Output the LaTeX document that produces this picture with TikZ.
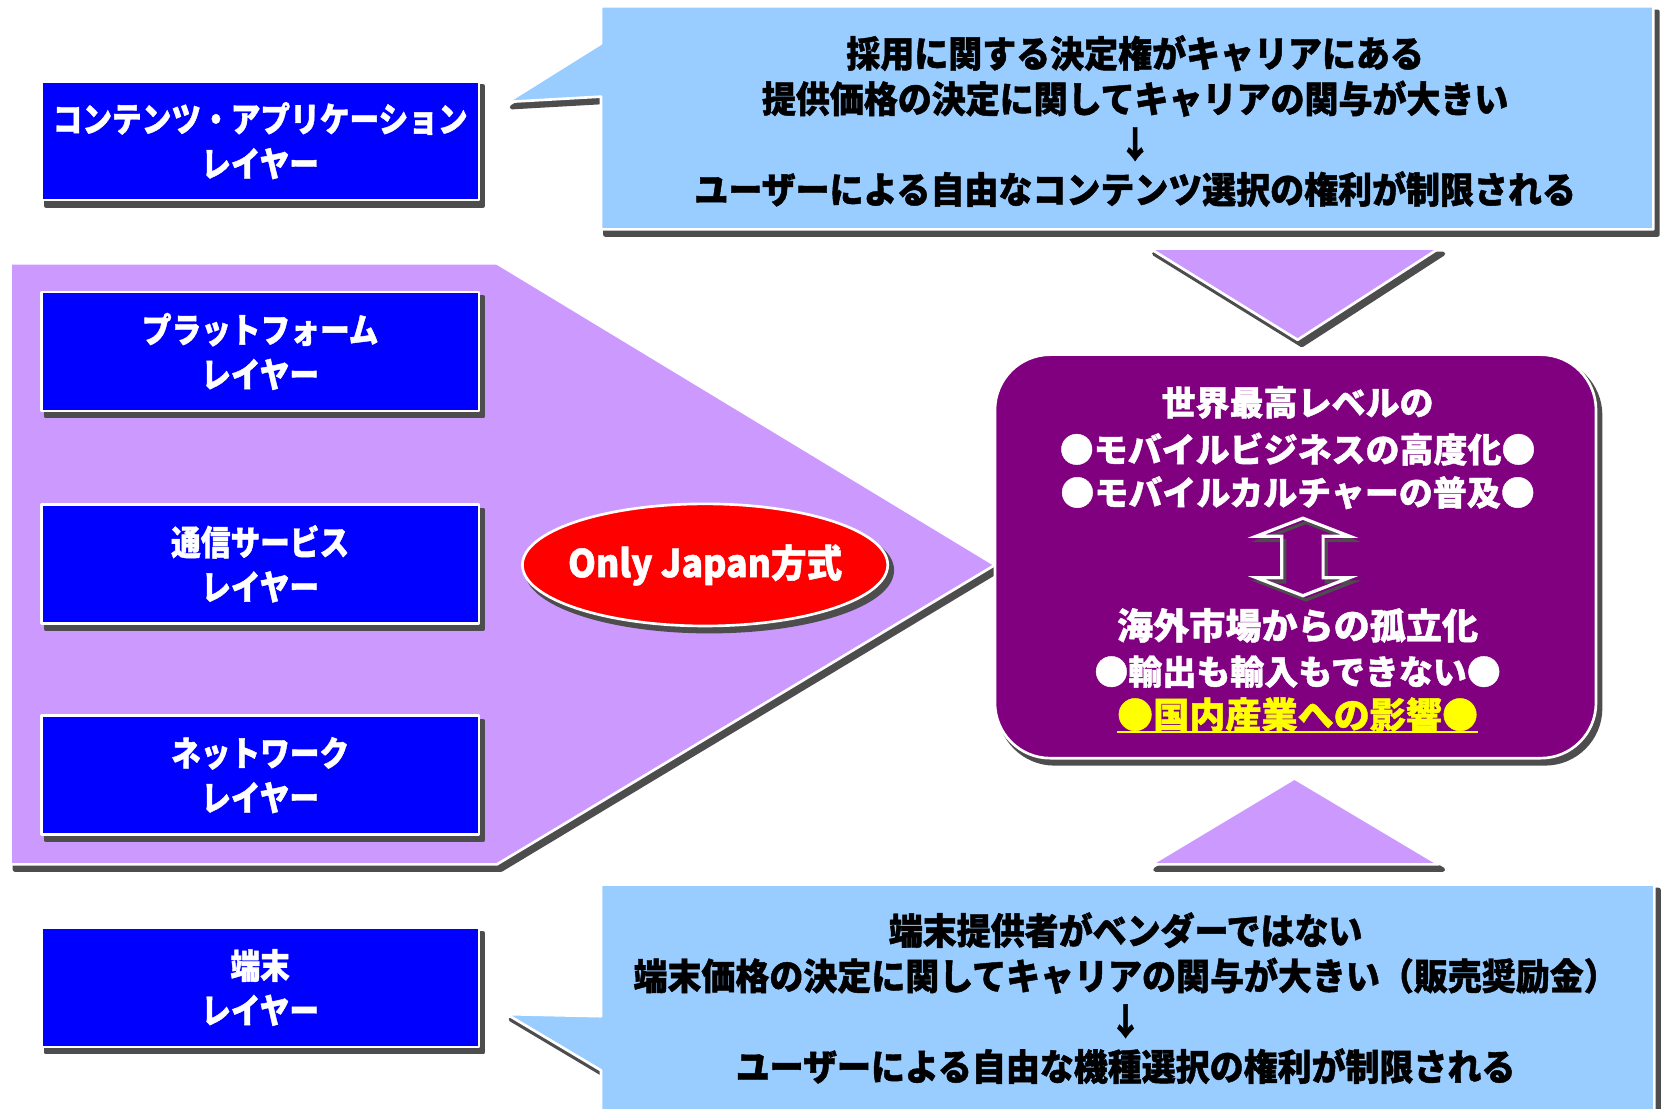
\documentclass[tikz,border=0pt]{standalone}
\usepackage{fontspec}
\usetikzlibrary{shapes.geometric,shadows}
\newfontfamily\jp{Noto Sans CJK JP}[BoldFeatures={FakeBold=1.2}]
\newfontfamily\jpn{Noto Sans CJK JP}[FakeStretch=0.86,BoldFeatures={FakeBold=1.2}]
\newfontfamily\jpm{Noto Sans CJK JP}[FakeStretch=0.93,BoldFeatures={FakeBold=1.2}]
\definecolor{layerblue}{HTML}{0000FF}
\definecolor{callblue}{HTML}{99CCFF}
\definecolor{lilac}{HTML}{CC99FF}
\definecolor{plum}{HTML}{800080}
\definecolor{shgray}{HTML}{4D4D4D}
\definecolor{hiyellow}{HTML}{FFFF00}
\begin{document}
\begin{tikzpicture}[x=1pt,y=-1pt,
  sh/.style={drop shadow={shadow xshift=4pt,shadow yshift=-5pt,opacity=1,fill=shgray,draw=shgray,line width=4pt,line join=round}},
  outl/.style={draw=white,line width=2.5pt,line join=round},
  layerbox/.style={rectangle,sh,fill=layerblue,outl,minimum width=412pt,minimum height=112pt,inner sep=0pt,align=center,text=white,font=\jpn\bfseries\fontsize{32.5}{42}\selectfont},
  calltext/.style={align=center,text=black,inner sep=0pt,font=\jpm\bfseries\fontsize{34.4}{42.7}\selectfont},
  restext/.style={text=white,inner sep=0pt,font=\jp\bfseries\fontsize{32}{40}\selectfont},
  restextbig/.style={text=white,inner sep=0pt,font=\jp\bfseries\fontsize{34}{40}\selectfont},
]
\path[fill=white,use as bounding box] (0,0) rectangle (1568,1044);

% purple pentagon
\path[sh,fill=lilac,outl] (10,248) -- (468,248) -- (937,532) -- (468,814) -- (10,814) -- cycle;

% connecting triangles
\path[sh,fill=lilac,outl] (1083,234) -- (1355,234) -- (1222,320) -- cycle;
\path[sh,fill=lilac,outl] (1084,814) -- (1355,814) -- (1219,733) -- cycle;

% callouts
\path[sh,fill=callblue,outl] (566,6) -- (1557,6) -- (1557,216) -- (566,216) -- (566,91) -- (478,96) -- (566,41) -- cycle;
\path[sh,fill=callblue,outl] (566,1060) -- (566,1008) -- (477,955) -- (566,957) -- (566,833) -- (1558,833) -- (1558,1060) -- cycle;

% layer boxes
\node[layerbox] (contl) at (245,132.5) {コンテンツ・アプリケーション\\レイヤー};
\node[layerbox] (platl) at (245,331) {プラットフォーム\\レイヤー};
\node[layerbox] (servl) at (245,531) {通信サービス\\レイヤー};
\node[layerbox] (netwl) at (245,730) {ネットワーク\\レイヤー};
\node[layerbox] (terml) at (245,930) {端末\\レイヤー};

% Only Japan ellipse
\node[ellipse,sh,fill=red,outl,minimum width=344pt,minimum height=115pt,inner sep=0pt,text=white,font=\jpm\bfseries\fontsize{36}{40}\selectfont] (oj) at (664,532) {\makebox[0pt]{Only Japan方式}};

% result box
\node[rectangle,rounded corners=52pt,sh,fill=plum,outl,minimum width=566pt,minimum height=380pt] (res) at (1220,524) {};
\node[restext] (r1) at (1222,379) {世界最高レベルの};
\node[restext] (r2) at (1222,423) {●モバイルビジネスの高度化●};
\node[restext] (r3) at (1222,464) {●モバイルカルチャーの普及●};
\node[restextbig] (r4) at (1222,589) {海外市場からの孤立化};
\node[restext] (r5) at (1222,632.5) {●輸出も輸入もできない●};
\node[restextbig,text=hiyellow] (r6) at (1222,673) {●国内産業への影響●};
\draw[hiyellow,line width=2.5pt] (r6.south west) -- (r6.south east);

% hollow double arrow
\draw[shgray,line width=3pt,line join=miter,shift={(3,4)}] (1227,488) -- (1271,505) -- (1246,505) -- (1246,544) -- (1271,544) -- (1227,561) -- (1183,544) -- (1207,544) -- (1207,505) -- (1183,505) -- cycle;
\draw[white,line width=3pt,line join=miter] (1227,488) -- (1271,505) -- (1246,505) -- (1246,544) -- (1271,544) -- (1227,561) -- (1183,544) -- (1207,544) -- (1207,505) -- (1183,505) -- cycle;

% callout texts
\node[calltext] (ctop) at (1069,114) {採用に関する決定権がキャリアにある\\提供価格の決定に関してキャリアの関与が大きい\\↓\\ユーザーによる自由なコンテンツ選択の権利が制限される};
\node[calltext] (cbot) at (1060,940) {端末提供者がベンダーではない\\端末価格の決定に関してキャリアの関与が大きい（販売奨励金）\\↓\\ユーザーによる自由な機種選択の権利が制限される};
\end{tikzpicture}
\end{document}
